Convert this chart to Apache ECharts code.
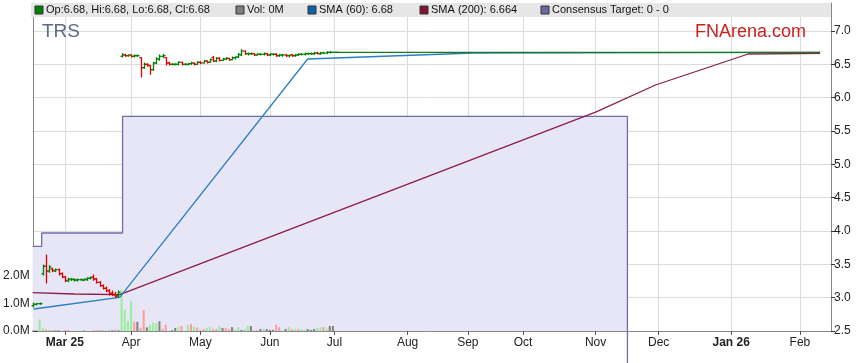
<!DOCTYPE html>
<html><head><meta charset="utf-8">
<script src="https://cdn.jsdelivr.net/npm/echarts@6/dist/echarts.min.js"></script>
<style>html,body{margin:0;padding:0;background:#fff}#c{width:859px;height:363px}</style>
</head><body><div id="c"></div>
<script>
// ---------------- data ----------------
const ticker = 'TRS';
const siteName = 'FNArena.com';
// x axis: trading-day slot index
const monthLabels = ['Mar 25','Apr','May','Jun','Jul','Aug','Sep','Oct','Nov','Dec','Jan 26','Feb'];
const monthTickIdx = [10, 31, 53, 75, 95.5, 118.7, 137.8, 155.3, 178.3, 198.3, 221.3, 243.1];
const boldLabels = ['Mar 25','Jan 26'];
const priceTicks = [2.5,3.0,3.5,4.0,4.5,5.0,5.5,6.0,6.5,7.0];
const volumeTicks = [0, 1000000, 2000000];

// daily OHLC, slot 0..96
const priceOpen  = [2.88,2.90,2.91,3.36,3.47,3.40,3.43,3.40,3.42,3.36,3.31,3.25,3.27,3.27,3.26,3.27,3.26,3.27,3.29,3.31,3.28,3.23,3.18,3.14,3.10,3.07,3.04,3.03,
 6.62,6.64,6.63,6.64,6.62,6.63,6.60,6.45,6.50,6.48,6.42,6.52,6.58,6.62,6.60,6.52,6.50,6.50,6.50,6.53,6.50,6.50,6.51,6.52,6.50,6.53,6.52,6.55,6.53,6.60,6.55,6.59,
 6.56,6.58,6.59,6.57,6.60,6.61,6.64,6.70,6.66,6.66,6.66,6.64,6.65,6.65,6.66,6.64,6.65,6.65,6.63,6.64,6.64,6.63,6.64,6.63,6.64,6.65,6.65,6.66,6.66,6.66,6.67,6.66,6.67,6.67,6.68,6.68,6.68];
const priceHigh  = [2.92,2.91,2.92,3.49,3.64,3.48,3.44,3.43,3.43,3.37,3.32,3.29,3.29,3.28,3.28,3.28,3.28,3.30,3.31,3.34,3.29,3.24,3.19,3.16,3.12,3.10,3.08,3.10,
 6.66,6.65,6.64,6.64,6.64,6.64,6.60,6.52,6.51,6.48,6.53,6.60,6.64,6.65,6.60,6.53,6.51,6.51,6.54,6.53,6.51,6.51,6.53,6.52,6.54,6.54,6.56,6.55,6.58,6.62,6.60,6.60,
 6.59,6.60,6.59,6.61,6.61,6.66,6.72,6.70,6.67,6.67,6.66,6.66,6.66,6.67,6.66,6.66,6.66,6.66,6.65,6.65,6.65,6.64,6.65,6.65,6.66,6.66,6.67,6.67,6.67,6.68,6.68,6.68,6.68,6.69,6.69,6.68,6.68];
const priceLow   = [2.86,2.89,2.90,3.34,3.22,3.38,3.39,3.39,3.34,3.30,3.24,3.24,3.26,3.25,3.25,3.26,3.26,3.26,3.28,3.26,3.22,3.17,3.13,3.09,3.04,3.03,3.00,3.01,
 6.61,6.62,6.62,6.61,6.61,6.62,6.31,6.44,6.47,6.35,6.41,6.51,6.56,6.60,6.49,6.49,6.49,6.49,6.49,6.49,6.49,6.49,6.50,6.49,6.50,6.51,6.52,6.52,6.53,6.54,6.54,6.55,
 6.56,6.57,6.56,6.57,6.58,6.60,6.63,6.65,6.64,6.65,6.63,6.64,6.64,6.64,6.63,6.63,6.64,6.62,6.62,6.62,6.62,6.61,6.62,6.62,6.63,6.64,6.64,6.65,6.65,6.65,6.66,6.65,6.66,6.66,6.67,6.68,6.68];
const priceClose = [2.90,2.91,2.91,3.47,3.40,3.46,3.41,3.42,3.36,3.31,3.26,3.28,3.28,3.27,3.27,3.27,3.28,3.29,3.30,3.28,3.23,3.18,3.14,3.11,3.06,3.05,3.02,3.08,
 6.64,6.63,6.64,6.62,6.63,6.63,6.45,6.50,6.49,6.42,6.52,6.58,6.62,6.63,6.52,6.50,6.50,6.50,6.53,6.50,6.50,6.51,6.52,6.50,6.53,6.52,6.55,6.53,6.57,6.55,6.59,6.56,
 6.58,6.59,6.57,6.60,6.61,6.65,6.70,6.66,6.66,6.66,6.64,6.65,6.65,6.66,6.64,6.65,6.65,6.63,6.64,6.64,6.63,6.64,6.63,6.64,6.65,6.65,6.66,6.66,6.66,6.67,6.66,6.67,6.67,6.68,6.68,6.68,6.68];
// suspended / flat close after July
const flatIdx = [96, 249.5];
const flatPrice = [6.68, 6.68];

// volume in millions, slot 0..96, and direction (u up, d down, n unchanged)
const volumeM = [0.02,0.02,0.42,0.10,0.06,0.04,0.03,0.02,0.03,0,0.03,0.03,0,0,0,0,0.02,0,0,0.03,0.03,0.02,0.03,0.02,0.04,0.03,0.05,0.03,
 1.47,0.76,0.36,1.08,0.33,0.33,0.12,0.76,0.13,0.22,0.30,0.28,0.35,0.07,0.24,0,0.03,0.11,0.14,0.18,0,0.22,0.25,0.16,0.12,0.04,0.07,0.11,0.14,0.07,0.07,0.18,
 0.11,0.11,0.07,0.14,0.04,0.14,0.04,0.07,0.18,0.18,0.03,0.03,0.07,0.07,0.07,0.04,0.04,0.22,0.14,0,0.07,0.14,0.07,0.07,0.07,0.07,0.04,0.07,0.04,0.07,0.11,0.14,0.14,0.07,0.18,0.18,0];
const volumeDir = [
 'n','n','u','u','d','u','d','n','n','n','d','d','n','n','n','n','n','n','n','d','d','n','d','d','u','n','d','n',
 'u','u','u','u','d','n','d','d','n','u','u','u','n','d','d','n','n','n','u','d','n','u','d','u','d','u','d','u','u','d','d','u',
 'n','d','d','n','u','u','n','u','u','n','d','d','n','u','n','n','n','d','d','n','n','u','d','u','d','u','u','n','n','n','u','u','d','u','n','n','n'];

// moving averages [slot, value]
const sma60Idx = [0.12, 27.4, 87.0, 139.7, 249.5];
const sma60Val = [2.83, 3.005, 6.58, 6.67, 6.68];
const sma200Idx = [-0.2, 13, 27.4, 178.5, 197.3, 226.7, 249.5];
const sma200Val = [3.075, 3.055, 3.045, 5.787, 6.19, 6.655, 6.664];
// consensus target (step)
const targetIdx = [-0.2, 2.65, 28.3, 188.4];
const targetVal = [3.77, 3.97, 5.72, 0];

const legendInfo = {
  ohlc: 'Op:6.68, Hi:6.68, Lo:6.68, Cl:6.68',
  vol: 'Vol: 0M',
  sma60: 'SMA (60): 6.68',
  sma200: 'SMA (200): 6.664',
  target: 'Consensus Target: 0 - 0'
};

// ---------------- build ----------------
const ohlcData = priceOpen.map((o, i) => [i, o, priceHigh[i], priceLow[i], priceClose[i]]);
const volColors = {u: '#98ee98', d: '#ff9c9c', n: '#808080'};
const volData = volumeM.map((v, i) => ({
  value: [i, v * 1e6],
  itemStyle: {color: volColors[volumeDir[i]] || '#808080'}
}));
const zip = (a, b) => a.map((x, i) => [x, b[i]]);

function renderOHLC(params, api) {
  const x = api.value(0), o = api.value(1), h = api.value(2), l = api.value(3), c = api.value(4);
  const pH = api.coord([x, h]), pL = api.coord([x, l]), pO = api.coord([x, o]), pC = api.coord([x, c]);
  const color = c >= o ? '#008000' : '#e00000';
  const xm = Math.round(pH[0]) + 0.5;
  const st = {stroke: color, lineWidth: 1.3};
  return {type: 'group', children: [
    {type: 'line', shape: {x1: xm, y1: pH[1] - 0.5, x2: xm, y2: pL[1] + 0.5}, style: st},
    {type: 'line', shape: {x1: xm - 2, y1: pO[1], x2: xm, y2: pO[1]}, style: st},
    {type: 'line', shape: {x1: xm, y1: pC[1], x2: xm + 2, y2: pC[1]}, style: st}
  ]};
}

const FONT = '"Liberation Sans", Arial, sans-serif';
const chart = echarts.init(document.getElementById('c'), null, {renderer: 'canvas'});

const legendItems = [
  {x: 35, color: '#008000', text: legendInfo.ohlc},
  {x: 236, color: '#808080', text: legendInfo.vol},
  {x: 308, color: '#0b63a5', text: legendInfo.sma60},
  {x: 420, color: '#7f1530', text: legendInfo.sma200},
  {x: 541, color: '#6a6aa0', text: legendInfo.target}
];
const graphics = [
  {type: 'rect', shape: {x: 31, y: 3, width: 800, height: 14}, style: {fill: '#e6e6e6'}, z: 10},
  {type: 'text', left: 42, top: 22, style: {text: ticker, font: '19px ' + FONT, fill: '#5b6b85'}, z: 10},
  {type: 'text', left: 695, top: 23, style: {text: siteName, font: '18px ' + FONT, fill: '#cc2020'}, z: 10}
];
legendItems.forEach(it => {
  graphics.push({type: 'rect', shape: {x: it.x, y: 6, width: 8, height: 8}, style: {fill: it.color, stroke: '#333', lineWidth: 1}, z: 11});
  graphics.push({type: 'text', x: it.x + 11, y: 10, style: {text: it.text, font: '11px ' + FONT, fill: '#111', textVerticalAlign: 'middle'}, z: 11});
});

chart.setOption({
  animation: false,
  backgroundColor: '#fff',
  textStyle: {fontFamily: FONT},
  grid: {left: 31, right: 28, top: 3, bottom: 32, containLabel: false},
  xAxis: {
    type: 'value', min: -0.2, max: 252.96,
    axisLine: {show: true, lineStyle: {color: '#888'}},
    axisTick: {show: true, customValues: monthTickIdx, length: 4, lineStyle: {color: '#555'}},
    axisLabel: {
      customValues: monthTickIdx, color: '#222', fontSize: 12, margin: 6,
      formatter: v => {
        let k = 0, best = Infinity;
        monthTickIdx.forEach((t, i) => { if (Math.abs(t - v) < best) { best = Math.abs(t - v); k = i; } });
        const s = monthLabels[k];
        return boldLabels.includes(s) ? '{b|' + s + '}' : s;
      },
      rich: {b: {fontWeight: 'bold', fontSize: 12, color: '#222', fontFamily: FONT}}
    },
    splitLine: {show: true, lineStyle: {color: '#dcdcdc'}}
  },
  yAxis: [
    {
      type: 'value', position: 'left', min: 0, max: 11.8e6,
      axisLine: {show: true, lineStyle: {color: '#888'}},
      axisTick: {show: true, inside: true, customValues: volumeTicks, length: 4, lineStyle: {color: '#333'}},
      axisLabel: {customValues: volumeTicks, color: '#222', fontSize: 12, margin: 3,
        formatter: v => (v / 1e6).toFixed(1) + 'M'},
      splitLine: {show: false}
    },
    {
      type: 'value', position: 'right', min: 2.5, max: 7.42,
      axisLine: {show: true, lineStyle: {color: '#888'}},
      axisTick: {show: true, customValues: priceTicks, length: 4, lineStyle: {color: '#333'}},
      axisLabel: {customValues: priceTicks, color: '#222', fontSize: 12, margin: 3,
        formatter: v => v.toFixed(1)},
      splitLine: {show: true, lineStyle: {color: '#dcdcdc'}}
    }
  ],
  graphic: graphics,
  series: [
    {
      name: 'Consensus Target', type: 'line', yAxisIndex: 1, step: 'end', clip: false,
      data: zip(targetIdx, targetVal), symbol: 'none',
      lineStyle: {color: '#6e6eaa', width: 1.3},
      areaStyle: {color: '#e6e6f6', opacity: 1}, z: 1
    },
    {
      name: 'Vol', type: 'bar', yAxisIndex: 0, barWidth: 2, data: volData, z: 2
    },
    {
      name: 'SMA (200)', type: 'line', yAxisIndex: 1, data: zip(sma200Idx, sma200Val), symbol: 'none',
      lineStyle: {color: '#8a1e46', width: 1.3}, z: 3
    },
    {
      name: 'SMA (60)', type: 'line', yAxisIndex: 1, data: zip(sma60Idx, sma60Val), symbol: 'none',
      lineStyle: {color: '#2a7fc0', width: 1.3}, z: 4
    },
    {
      name: 'Flat', type: 'line', yAxisIndex: 1, data: zip(flatIdx, flatPrice), symbol: 'none',
      lineStyle: {color: '#1a7a1a', width: 1.3}, z: 5
    },
    {
      name: 'Price', type: 'custom', yAxisIndex: 1, renderItem: renderOHLC,
      encode: {x: 0, y: [1, 2, 3, 4]}, data: ohlcData, z: 6
    }
  ]
});
</script></body></html>
